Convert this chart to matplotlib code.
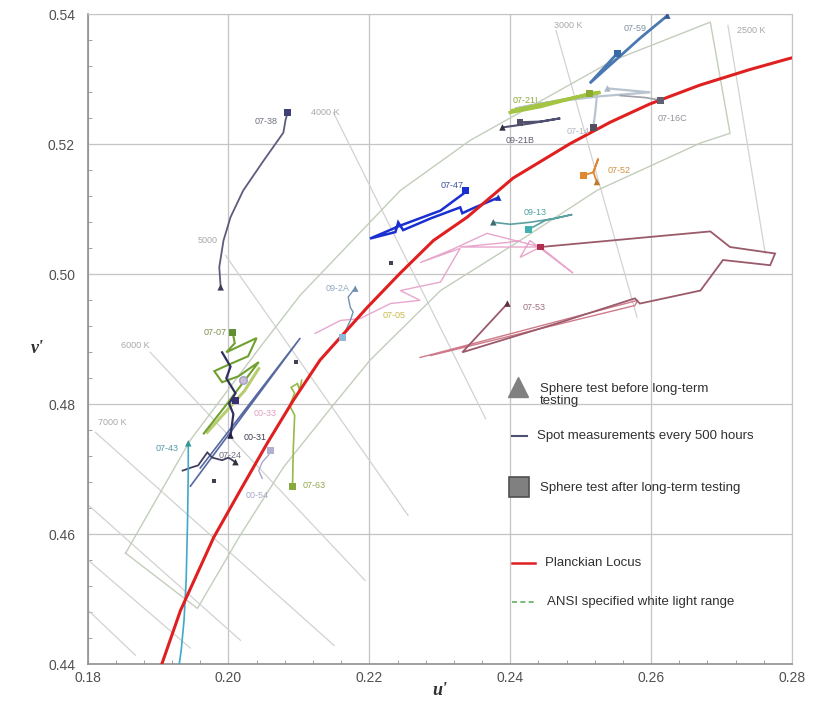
import matplotlib
matplotlib.use('Agg')
import matplotlib.pyplot as plt
from matplotlib.ticker import MultipleLocator, FormatStrFormatter

plt.rcParams['font.family'] = ['Liberation Sans', 'DejaVu Sans']

# ---------------- data (u', v') ----------------
locus_u = [0.1905, 0.1932, 0.1979, 0.2017, 0.2055, 0.2092, 0.2130, 0.2197, 0.2244, 0.2291,
           0.2339, 0.2404, 0.2485, 0.2542, 0.2598, 0.2669, 0.2740, 0.2796, 0.2800]
locus_v = [0.4399, 0.4483, 0.4595, 0.4668, 0.4740, 0.4806, 0.4868, 0.4949, 0.5002, 0.5052,
           0.5088, 0.5148, 0.5201, 0.5234, 0.5262, 0.5291, 0.5315, 0.5332, 0.5333]

ansi_u = [0.1854, 0.1946, 0.2045, 0.2102, 0.2244, 0.2343, 0.2546, 0.2684, 0.2712, 0.2670,
          0.2523, 0.2414, 0.2301, 0.2201, 0.2143, 0.2078, 0.2017, 0.1956, 0.1854]
ansi_v = [0.4571, 0.4745, 0.4888, 0.4968, 0.5129, 0.5206, 0.5329, 0.5388, 0.5217, 0.5202,
          0.5129, 0.5052, 0.4975, 0.4868, 0.4791, 0.4703, 0.4599, 0.4486, 0.4571]

iso_u0 = [0.2709, 0.2465, 0.2149, 0.1996, 0.1889, 0.1811, 0.1801, 0.1801, 0.1801]
iso_v0 = [0.5383, 0.5375, 0.5249, 0.5029, 0.4880, 0.4757, 0.4645, 0.4560, 0.4483]
iso_u1 = [0.2762, 0.2580, 0.2365, 0.2255, 0.2194, 0.2150, 0.2017, 0.1946, 0.1868]
iso_v1 = [0.5032, 0.4934, 0.4778, 0.4629, 0.4529, 0.4429, 0.4437, 0.4425, 0.4414]

iso_labels = ['3000 K', '2500 K', '4000 K', '5000', '6000 K', '7000 K']
iso_lab_u = [0.2482, 0.2742, 0.2138, 0.1970, 0.1868, 0.1835]
iso_lab_v = [0.5383, 0.5375, 0.5249, 0.5052, 0.4891, 0.4772]

# measurement series: path, before (triangle), after (square)
s0738_u = [0.1989, 0.1987, 0.1993, 0.2003, 0.2021, 0.2050, 0.2078, 0.2081, 0.2084]
s0738_v = [0.4980, 0.5011, 0.5052, 0.5088, 0.5129, 0.5175, 0.5218, 0.5237, 0.5249]
s0759_u = [0.2623, 0.2584, 0.2513, 0.2552]
s0759_v = [0.5398, 0.5363, 0.5294, 0.5340]
s0921_u = [0.2389, 0.2428, 0.2471, 0.2443, 0.2414]
s0921_v = [0.5226, 0.5232, 0.5240, 0.5235, 0.5234]
s0721_u = [0.2400, 0.2443, 0.2471, 0.2513, 0.2528, 0.2492, 0.2443, 0.2403]
s0721_v = [0.5249, 0.5258, 0.5266, 0.5278, 0.5280, 0.5272, 0.5261, 0.5252]
s0714_u = [0.2538, 0.2599, 0.2528, 0.2443, 0.2407, 0.2471, 0.2523, 0.2521, 0.2518]
s0714_v = [0.5286, 0.5280, 0.5274, 0.5263, 0.5255, 0.5268, 0.5275, 0.5252, 0.5226]
s0716_u = [0.2556, 0.2591, 0.2613]
s0716_v = [0.5275, 0.5272, 0.5268]
s0752_u = [0.2523, 0.2518, 0.2525, 0.2518, 0.2504]
s0752_v = [0.5142, 0.5157, 0.5178, 0.5157, 0.5152]
s0747_u = [0.2383, 0.2348, 0.2332, 0.2329, 0.2287, 0.2248, 0.2241, 0.2237, 0.2201, 0.2244, 0.2301, 0.2336]
s0747_v = [0.5118, 0.5102, 0.5094, 0.5103, 0.5086, 0.5068, 0.5080, 0.5065, 0.5055, 0.5075, 0.5098, 0.5126]
s0913_u = [0.2376, 0.2400, 0.2428, 0.2464, 0.2488, 0.2450, 0.2426]
s0913_v = [0.5080, 0.5077, 0.5080, 0.5086, 0.5092, 0.5083, 0.5069]
s0753_u = [0.2396, 0.2332, 0.2471, 0.2577, 0.2584, 0.2670, 0.2702, 0.2769, 0.2776, 0.2712, 0.2684, 0.2443]
s0753_v = [0.4955, 0.4880, 0.4926, 0.4963, 0.4955, 0.4975, 0.5022, 0.5014, 0.5032, 0.5042, 0.5066, 0.5042]
wedge_u = [0.2272, 0.2581, 0.2577, 0.2287]
wedge_v = [0.4872, 0.4960, 0.4952, 0.4875]
pink_u = [0.2123, 0.2159, 0.2187, 0.2230, 0.2272, 0.2244, 0.2301, 0.2329, 0.2272, 0.2315,
          0.2367, 0.2443, 0.2414, 0.2428, 0.2489, 0.2443, 0.2329, 0.2396, 0.2414]
pink_v = [0.4909, 0.4929, 0.4932, 0.4955, 0.4960, 0.4975, 0.4988, 0.5040, 0.5018, 0.5037,
          0.5063, 0.5042, 0.5026, 0.5052, 0.5002, 0.5042, 0.5042, 0.5049, 0.5052]
s092a_u = [0.2180, 0.2177, 0.2170, 0.2173, 0.2177, 0.2173, 0.2162]
s092a_v = [0.4978, 0.4975, 0.4965, 0.4949, 0.4942, 0.4929, 0.4903]
s0707_u = [0.2006, 0.2009, 0.1997, 0.2040, 0.2028, 0.1994, 0.1980, 0.1991, 0.2014, 0.2043, 0.2010, 0.1996, 0.1965]
s0707_v = [0.4911, 0.4894, 0.4880, 0.4902, 0.4874, 0.4858, 0.4851, 0.4834, 0.4843, 0.4865, 0.4818, 0.4798, 0.4755]
lgreen_u = [0.1970, 0.2023, 0.2043]
lgreen_v = [0.4757, 0.4821, 0.4855]
s0031_u = [0.2003, 0.2007, 0.2001, 0.2010, 0.1997, 0.2003, 0.1991]
s0031_v = [0.4752, 0.4785, 0.4801, 0.4817, 0.4840, 0.4858, 0.4880]
slate_u = [0.1946, 0.2102, 0.1960]
slate_v = [0.4674, 0.4902, 0.4702]
s0724_u = [0.2010, 0.2000, 0.1991, 0.1977, 0.1970, 0.1957, 0.1948, 0.1935]
s0724_v = [0.4711, 0.4718, 0.4714, 0.4718, 0.4726, 0.4706, 0.4703, 0.4698]
s0743_u = [0.1943, 0.1943, 0.1942, 0.1940, 0.1937, 0.1933, 0.1930]
s0743_v = [0.4740, 0.4699, 0.4622, 0.4529, 0.4468, 0.4422, 0.4399]
s0054_u = [0.2048, 0.2043, 0.2048, 0.2057, 0.2060]
s0054_v = [0.4686, 0.4698, 0.4711, 0.4722, 0.4729]
s0763_u = [0.2091, 0.2092, 0.2094, 0.2087, 0.2094, 0.2089, 0.2098, 0.2101, 0.2104]
s0763_v = [0.4674, 0.4729, 0.4783, 0.4798, 0.4817, 0.4826, 0.4832, 0.4822, 0.4837]

before_u = [0.1989, 0.2623, 0.2389, 0.2538, 0.2523, 0.2383, 0.2376, 0.2396, 0.2180, 0.2003, 0.2010, 0.1943]
before_v = [0.4980, 0.5398, 0.5226, 0.5286, 0.5142, 0.5118, 0.5080, 0.4955, 0.4978, 0.4752, 0.4711, 0.4740]
before_c = ['#3a3a5a', '#3a5a90', '#303040', '#a8b8c8', '#c07830', '#1a30c0', '#406e70',
            '#603040', '#7090b0', '#202040', '#303040', '#309898']
after_u = [0.2084, 0.2552, 0.2414, 0.2513, 0.2518, 0.2613, 0.2504, 0.2336, 0.2426, 0.2443,
           0.2162, 0.2006, 0.2010, 0.2060, 0.2091]
after_v = [0.5249, 0.5340, 0.5234, 0.5278, 0.5226, 0.5268, 0.5152, 0.5129, 0.5069, 0.5042,
           0.4903, 0.4911, 0.4806, 0.4729, 0.4674]
after_c = ['#404078', '#3a6aa8', '#505068', '#8aaa30', '#505060', '#606070', '#e08830', '#1a30d0',
           '#40b0b0', '#b03050', '#90b8d8', '#609030', '#3a3070', '#b0b0d0', '#88a840']

dots_u = [0.2231, 0.2096, 0.1979]
dots_v = [0.5017, 0.4865, 0.4682]

labels = ['07-38', '07-59', '09-21B', '07-21I', '07-14', '07-16C', '07-52', '07-47', '09-13',
          '07-53', '09-2A', '07-05', '07-07', '00-31', '00-33', '07-24', '07-43', '00-54', '07-63']
lab_u = [0.2070, 0.2577, 0.2414, 0.2421, 0.2496, 0.2609, 0.2538, 0.2318, 0.2435,
         0.2418, 0.2172, 0.2235, 0.1997, 0.2021, 0.2052, 0.2003, 0.1929, 0.2041, 0.2106]
lab_v = [0.5235, 0.5378, 0.5206, 0.5267, 0.5220, 0.5240, 0.5160, 0.5137, 0.5095,
         0.4949, 0.4978, 0.4937, 0.4911, 0.4749, 0.4786, 0.4722, 0.4732, 0.4660, 0.4675]
lab_ha = ['right', 'center', 'center', 'center', 'center', 'left', 'left', 'center', 'center',
          'left', 'right', 'center', 'right', 'left', 'center', 'center', 'right', 'center', 'left']
lab_c = ['#707080', '#8090a0', '#606070', '#90a840', '#b0b8c0', '#909098', '#d09040', '#4050a0',
         '#50a0a0', '#a07080', '#90a8c0', '#c8b848', '#809050', '#404050', '#e0a0c0', '#707080',
         '#5098a8', '#a8a8c8', '#90a850']

# ---------------- figure ----------------
fig = plt.figure(figsize=(8.15, 7.02), dpi=100)
ax = fig.add_axes([0.1074, 0.0537, 0.8644, 0.9259])
ax.set_xlim(0.18, 0.28)
ax.set_ylim(0.44, 0.54)

ax.xaxis.set_major_locator(MultipleLocator(0.02))
ax.yaxis.set_major_locator(MultipleLocator(0.02))
ax.xaxis.set_minor_locator(MultipleLocator(0.004))
ax.yaxis.set_minor_locator(MultipleLocator(0.004))
ax.xaxis.set_major_formatter(FormatStrFormatter('%.2f'))
ax.yaxis.set_major_formatter(FormatStrFormatter('%.2f'))
ax.grid(True, which='major', color='#c4c4c4', lw=0.9)
ax.tick_params(which='major', length=0, labelsize=10, labelcolor='#505050')
ax.tick_params(axis='x', which='major', pad=5)
ax.tick_params(axis='y', which='major', pad=9)
ax.tick_params(which='minor', direction='in', length=3, color='#909090')
for s in ['left', 'bottom']:
    ax.spines[s].set_color('#909090')
    ax.spines[s].set_linewidth(1.2)
for s in ['top', 'right']:
    ax.spines[s].set_color('#c4c4c4')
ax.set_axisbelow(True)

# isotherms
for i in range(len(iso_u0)):
    ax.plot([iso_u0[i], iso_u1[i]], [iso_v0[i], iso_v1[i]], color='#d2d2d2', lw=0.9, zorder=1)
for t, uu, vv in zip(iso_labels, iso_lab_u, iso_lab_v):
    ax.text(uu, vv, t, fontsize=6.5, color='#a8a8a8', ha='center', va='center', zorder=2)

# ANSI band
ax.plot(ansi_u, ansi_v, color='#c2cebc', lw=1.0, zorder=2)

# series lines
def line(u, v, c, lw=1.2, z=4):
    ax.plot(u, v, color=c, lw=lw, zorder=z, solid_joinstyle='miter')

line(pink_u, pink_v, '#e8a6cc', 1.0)
line(wedge_u, wedge_v, '#cf7a8a', 1.0)
line(s0753_u, s0753_v, '#9a5a6a', 1.3)
line(s0738_u, s0738_v, '#5c5c7c', 1.3)
line(s0759_u, s0759_v, '#4a78b0', 2.0)
line(s0714_u, s0714_v, '#b8c4d0', 1.6)
line(s0721_u, s0721_v, '#a4c444', 2.4)
line(s0921_u, s0921_v, '#505070', 1.5)
line(s0716_u, s0716_v, '#a0a0a8', 1.2)
line(s0752_u, s0752_v, '#e08830', 1.3)
line(s0747_u, s0747_v, '#1a30d0', 1.8)
line(s0913_u, s0913_v, '#5aa0a0', 1.2)
line(s092a_u, s092a_v, '#7090b0', 1.0)
line(lgreen_u, lgreen_v, '#b8cc70', 2.2)
line(s0707_u, s0707_v, '#70a030', 1.5)
line(slate_u, slate_v, '#5868a0', 1.2)
line(s0031_u, s0031_v, '#303060', 1.6)
line(s0724_u, s0724_v, '#404060', 1.3)
line(s0743_u, s0743_v, '#40a8c8', 1.2)
line(s0054_u, s0054_v, '#a8a8cc', 1.0)
line(s0763_u, s0763_v, '#98b848', 1.2)

# Planckian locus
ax.plot(locus_u, locus_v, color='#e02020', lw=2.2, zorder=5)

# markers
ax.scatter(before_u, before_v, marker='^', s=22, c=before_c, zorder=6, linewidths=0)
ax.scatter(after_u, after_v, marker='s', s=24, c=after_c, zorder=6, linewidths=0)
ax.scatter(dots_u, dots_v, marker='s', s=6, c='#404050', zorder=6, linewidths=0)
ax.scatter([0.2020], [0.4837], marker='o', s=30, facecolors='#c8c0d8', edgecolors='#a8a0c0', zorder=6)

for t, uu, vv, ha, c in zip(labels, lab_u, lab_v, lab_ha, lab_c):
    ax.text(uu, vv, t, fontsize=6.5, color=c, ha=ha, va='center', zorder=7)

# legend (manual)
tr = ax.transAxes
ax.plot([0.611], [0.4266], marker='^', ms=15, color='#808080', transform=tr, clip_on=False)
ax.text(0.6423, 0.4143, 'Sphere test before long-term\ntesting', transform=tr, fontsize=9.5,
        color='#303030', va='center', ha='left', linespacing=1.05)
ax.plot([0.6025, 0.6238], [0.3512, 0.3512], color='#505070', lw=1.5, transform=tr)
ax.text(0.6380, 0.3512, 'Spot measurements every 500 hours', transform=tr, fontsize=9.5,
        color='#303030', va='center', ha='left')
ax.plot([0.6125], [0.2728], marker='s', ms=14, color='#808080', mec='#505050', mew=1.2, transform=tr)
ax.text(0.6423, 0.2712, 'Sphere test after long-term testing', transform=tr, fontsize=9.5,
        color='#303030', va='center', ha='left')
ax.plot([0.6025, 0.6352], [0.1558, 0.1558], color='#e02020', lw=1.8, transform=tr)
ax.text(0.6494, 0.1558, 'Planckian Locus', transform=tr, fontsize=9.5,
        color='#303030', va='center', ha='left')
ax.plot([0.6025, 0.6352], [0.0958, 0.0958], color='#60b060', lw=1.2, ls=(0, (3, 2)), transform=tr)
ax.text(0.6522, 0.0958, 'ANSI specified white light range', transform=tr, fontsize=9.5,
        color='#303030', va='center', ha='left')

# axis labels
fig.text(0.046, 0.504, "v'", fontsize=13, fontweight='bold', fontstyle='italic',
         family='Liberation Serif', color='#303030', ha='center', va='center')
fig.text(0.540, 0.017, "u'", fontsize=13, fontweight='bold', fontstyle='italic',
         family='Liberation Serif', color='#303030', ha='center', va='center')

fig.savefig('out.png', dpi=100)
